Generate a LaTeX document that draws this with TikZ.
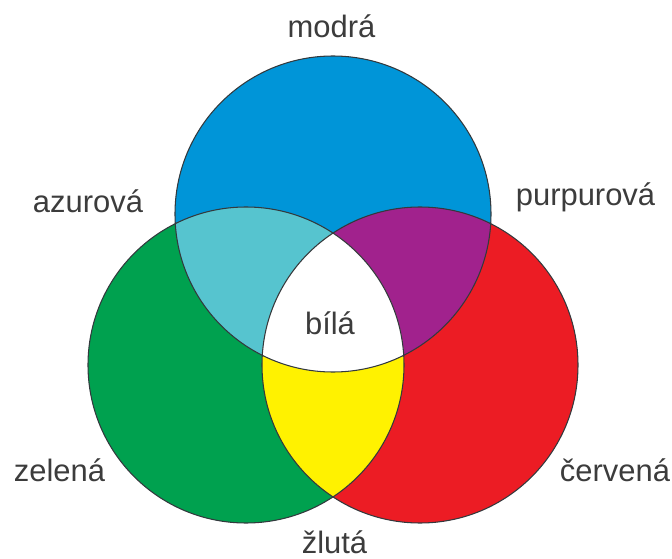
\documentclass[tikz,border=0pt]{standalone}
\usepackage{fontspec}
\setmainfont{Liberation Sans}
\usepackage{xcolor}
\definecolor{modr}{HTML}{0095D8}
\definecolor{zel}{HTML}{00A14F}
\definecolor{cerv}{HTML}{EC1C24}
\definecolor{azur}{HTML}{56C4CF}
\definecolor{purp}{HTML}{A1228D}
\definecolor{zlut}{HTML}{FFF200}
\definecolor{txt}{HTML}{3C3C3C}
\definecolor{rim}{HTML}{33393D}
\tikzset{
  lbl/.style = {anchor=base, inner sep=0pt, text=txt,
                font=\fontsize{17.6}{20}\selectfont},
  rim/.style = {draw=rim, line width=0.6pt},
}

\begin{document}
\begin{tikzpicture}
  \useasboundingbox (0,0) rectangle (13.44,11.16);
  \def\rr{3.16}

  \coordinate (B) at (6.66,6.88);
  \coordinate (G) at (4.92,3.86);
  \coordinate (R) at (8.40,3.86);

  % primaries
  \fill[modr] (B) circle (\rr);
  \fill[zel]  (G) circle (\rr);
  \fill[cerv] (R) circle (\rr);

  % pairwise mixes
  \begin{scope}
    \clip (B) circle (\rr);
    \fill[azur] (G) circle (\rr);
    \fill[purp] (R) circle (\rr);
  \end{scope}
  \begin{scope}
    \clip (G) circle (\rr);
    \fill[zlut] (R) circle (\rr);
  \end{scope}

  % all three
  \begin{scope}
    \clip (B) circle (\rr);
    \clip (G) circle (\rr);
    \fill[white] (R) circle (\rr);
  \end{scope}

  \foreach \p in {B,G,R}
    \draw[rim] (\p) circle (\rr);

  \node[lbl] (modra) at (6.63,10.40) {modrá};
  \node[lbl] (azur)  at (1.76,6.90)  {azurová};
  \node[lbl] (purp)  at (11.71,7.06) {purpurová};
  \node[lbl] (bila)  at (6.60,4.46)  {bílá};
  \node[lbl] (zel)   at (1.19,1.54)  {zelená};
  \node[lbl] (cerv)  at (12.30,1.54) {červená};
  \node[lbl] (zluta) at (6.69,0.10)  {žlutá};

\end{tikzpicture}
\end{document}
